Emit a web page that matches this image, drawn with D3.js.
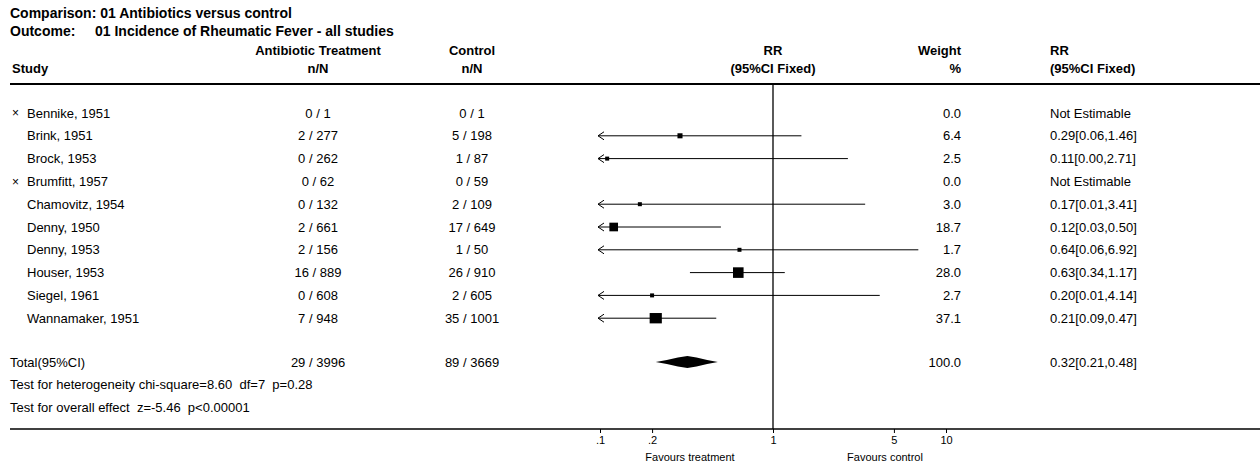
<!DOCTYPE html>
<html><head><meta charset="utf-8">
<script src="https://cdn.jsdelivr.net/npm/d3@7"></script>
<style>
body{margin:0;background:#fff;}
svg text{font-family:Arial,"Liberation Sans",sans-serif;fill:#000;white-space:pre;}
</style></head>
<body><svg id="c" width="1260" height="464"></svg>
<script>
const studies = ["Bennike, 1951","Brink, 1951","Brock, 1953","Brumfitt, 1957","Chamovitz, 1954","Denny, 1950","Denny, 1953","Houser, 1953","Siegel, 1961","Wannamaker, 1951"];
const excluded = [true,false,false,true,false,false,false,false,false,false];
const treatN = ["0 / 1","2 / 277","0 / 262","0 / 62","0 / 132","2 / 661","2 / 156","16 / 889","0 / 608","7 / 948"];
const controlN = ["0 / 1","5 / 198","1 / 87","0 / 59","2 / 109","17 / 649","1 / 50","26 / 910","2 / 605","35 / 1001"];
const weight = [0.0,6.4,2.5,0.0,3.0,18.7,1.7,28.0,2.7,37.1];
const rr = [null,0.29,0.11,null,0.17,0.12,0.64,0.63,0.20,0.21];
const lo = [null,0.06,0.00,null,0.01,0.03,0.06,0.34,0.01,0.09];
const hi = [null,1.46,2.71,null,3.41,0.50,6.92,1.17,4.14,0.47];
const total = {label:"Total(95%CI)", treat:"29 / 3996", control:"89 / 3669", weight:100.0, rr:0.32, lo:0.21, hi:0.48};
const tests = ["Test for heterogeneity chi-square=8.60  df=7  p=0.28","Test for overall effect  z=-5.46  p<0.00001"];
const tickValues = [0.1,0.2,1,5,10];
const tickLabels = [".1",".2","1","5","10"];

const svg = d3.select("#c");
const x = d3.scaleLog().domain([0.1,10]).range([600,946]);
const fs = 13;
const rowY0 = 113, rowH = 22.8;
const y = d3.scaleLinear().domain([0,1]).range([rowY0,rowY0+rowH]);
const totalY = 362, axisY = 429;
const colT = 318, colC = 472, colW = 961, colR = 1050;

function txt(xp,yp,s,opts={}){
  return svg.append("text").attr("x",xp).attr("y",yp).attr("dy","0.35em")
    .attr("font-size",opts.size||fs).attr("font-weight",opts.bold?"bold":"normal")
    .attr("text-anchor",opts.anchor||"start").text(s);
}
// titles
txt(10,13,"Comparison: 01 Antibiotics versus control",{bold:true,size:14});
txt(10,31,"Outcome:",{bold:true,size:14});
txt(95,31,"01 Incidence of Rheumatic Fever - all studies",{bold:true,size:14});
// headers
const h1=50,h2=68;
txt(colT,h1,"Antibiotic Treatment",{bold:true,anchor:"middle"});
txt(colT,h2,"n/N",{bold:true,anchor:"middle"});
txt(colC,h1,"Control",{bold:true,anchor:"middle"});
txt(colC,h2,"n/N",{bold:true,anchor:"middle"});
txt(x(1),h1,"RR",{bold:true,anchor:"middle"});
txt(x(1),h2,"(95%CI Fixed)",{bold:true,anchor:"middle"});
txt(colW,h1,"Weight",{bold:true,anchor:"end"});
txt(colW,h2,"%",{bold:true,anchor:"end"});
txt(colR,h1,"RR",{bold:true});
txt(colR,h2,"(95%CI Fixed)",{bold:true});
txt(12,h2,"Study",{bold:true});
const ruleY = 84;
svg.append("line").attr("x1",10).attr("x2",1260).attr("y1",ruleY).attr("y2",ruleY).attr("stroke","#000").attr("stroke-width",2);

// vertical line at 1
svg.append("line").attr("x1",x(1)).attr("x2",x(1)).attr("y1",ruleY).attr("y2",axisY).attr("stroke","#000").attr("stroke-width",1.3);

const f2 = d3.format(".2f");
studies.forEach((s,i)=>{
  const yy = y(i);
  if(excluded[i]) txt(12,yy,"×",{size:12});
  txt(27,yy,s);
  txt(colT,yy,treatN[i],{anchor:"middle"});
  txt(colC,yy,controlN[i],{anchor:"middle"});
  txt(colW,yy,d3.format(".1f")(weight[i]),{anchor:"end"});
  txt(colR,yy, rr[i]==null ? "Not Estimable" : `${f2(rr[i])}[${f2(lo[i])},${f2(hi[i])}]`);
  if(rr[i]!=null){
    const [d0,d1]=x.domain();
    const xl = x(Math.max(lo[i],d0)), xh = x(Math.min(hi[i],d1));
    svg.append("line").attr("x1",xl-2).attr("x2",xh).attr("y1",yy).attr("y2",yy).attr("stroke","#000").attr("stroke-width",1);
    if(lo[i]<d0){
      svg.append("path").attr("d",`M${xl+4},${yy-4}L${xl-2},${yy}L${xl+4},${yy+4}`).attr("fill","none").attr("stroke","#000").attr("stroke-width",1);
    }
    const side = Math.max(4, 2*Math.sqrt(weight[i]));
    const sh = weight[i]>30 ? side*0.85 : side;
    svg.append("rect").attr("x",x(rr[i])-side/2).attr("y",yy-sh/2).attr("width",side).attr("height",sh).attr("fill","#000");
  }
});

// total
txt(10,totalY,total.label);
txt(colT,totalY,total.treat,{anchor:"middle"});
txt(colC,totalY,total.control,{anchor:"middle"});
txt(colW,totalY,d3.format(".1f")(total.weight),{anchor:"end"});
txt(colR,totalY,`${f2(total.rr)}[${f2(total.lo)},${f2(total.hi)}]`);
{
  const xl=x(total.lo), xc=x(total.rr), xh=x(total.hi), yy=totalY;
  const wl=xc-xl, wr=xh-xc;
  const d=`M${xl},${yy}L${xl+wl*0.35},${yy-2}L${xl+wl*0.7},${yy-4.5}L${xc},${yy-6}L${xh-wr*0.7},${yy-4.5}L${xh-wr*0.35},${yy-2}L${xh},${yy}`+
          `L${xh-wr*0.35},${yy+2}L${xh-wr*0.7},${yy+4.5}L${xc},${yy+6}L${xl+wl*0.7},${yy+4.5}L${xl+wl*0.35},${yy+2}Z`;
  svg.append("path").attr("d",d).attr("fill","#000");
}
tests.forEach((t,i)=>txt(10,totalY+22.5*(i+1),t));

// axis
svg.append("line").attr("x1",10).attr("x2",1260).attr("y1",axisY).attr("y2",axisY).attr("stroke","#000").attr("stroke-width",1.5);
const axis = d3.axisBottom(x).tickValues(tickValues).tickFormat((d,i)=>tickLabels[i]).tickSize(4).tickSizeOuter(0);
const g = svg.append("g").attr("transform",`translate(0,${axisY})`).call(axis);
g.select(".domain").remove();
g.selectAll("text").attr("font-size",11).attr("font-family","Arial,'Liberation Sans',sans-serif").attr("dy","0.75em");
txt(690,457,"Favours treatment",{anchor:"middle",size:11});
txt(885,457,"Favours control",{anchor:"middle",size:11});
</script></body></html>
